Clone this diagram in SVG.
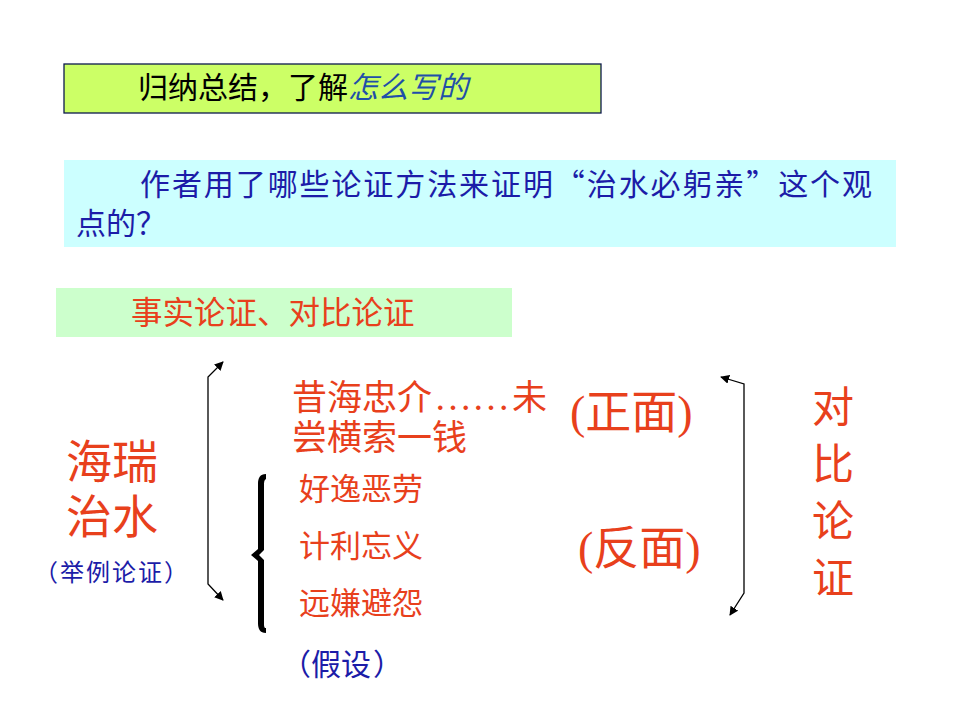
<svg xmlns="http://www.w3.org/2000/svg" width="960" height="720" viewBox="0 0 960 720">
<style>
text{font-family:"Noto Sans CJK SC","Liberation Serif",sans-serif;}
.lat{font-family:"Liberation Serif","Noto Sans CJK SC",serif;}
.red{fill:#e8401c;}
.blue{fill:#1c1ca8;}
.ln{fill:none;stroke:#000;stroke-width:1.3;}
</style>
<defs>
<marker id="ah" viewBox="0 0 10 10" refX="9" refY="5" markerWidth="9" markerHeight="9" markerUnits="userSpaceOnUse" orient="auto-start-reverse">
<path d="M0,0 L10,5 L0,10 Z" fill="#000"/>
</marker>
</defs>
<rect width="960" height="720" fill="#fff"/>
<g id="title">
<rect x="64" y="64" width="537" height="49" fill="#ccff66" stroke="#0d1a4d" stroke-width="1.3"/>
<text x="138" y="98" font-size="30" fill="#000">归纳总结，了解<tspan fill="#1f4fa8" font-style="italic">怎么写的</tspan></text>
</g>
<g id="question">
<rect x="64" y="160" width="832" height="87" fill="#ccffff"/>
<text x="140" y="195" font-size="30" class="blue" textLength="732" lengthAdjust="spacing">作者用了哪些论证方法来证明“治水必躬亲”这个观</text>
<text x="76" y="234" font-size="30" class="blue">点的？</text>
</g>
<g id="answer">
<rect x="56" y="288" width="456" height="49" fill="#ccffcc"/>
<text x="131" y="324" font-size="31.5" class="red">事实论证、对比论证</text>
</g>
<g id="hairui">
<text x="66" y="478" font-size="46" class="red">海瑞</text>
<text x="66" y="533" font-size="46" class="red">治水</text>
<text x="34" y="581" font-size="24" letter-spacing="2" class="blue">（举例论证）</text>
</g>
<g id="positive">
<text x="292" y="410" font-size="35" class="red">昔海忠介<tspan class="lat" font-size="38" dx="2">……</tspan><tspan x="512">未</tspan></text>
<text x="292" y="450" font-size="35" class="red">尝横索一钱</text>
<text x="570" y="428" font-size="46" class="red"><tspan class="lat">(</tspan>正面<tspan class="lat">)</tspan></text>
</g>
<g id="negative">
<text x="299" y="500" font-size="31" class="red">好逸恶劳</text>
<text x="299" y="557" font-size="31" class="red">计利忘义</text>
<text x="299" y="614" font-size="31" class="red">远嫌避怨</text>
<text x="578" y="564" font-size="46" class="red"><tspan class="lat">(</tspan>反面<tspan class="lat">)</tspan></text>
<text x="281" y="675" font-size="30" class="blue">（假设<tspan dx="2">）</tspan></text>
</g>
<g id="contrast">
<text x="833" y="422" font-size="42" class="red" text-anchor="middle">对</text>
<text x="833" y="479" font-size="42" class="red" text-anchor="middle">比</text>
<text x="833" y="536" font-size="42" class="red" text-anchor="middle">论</text>
<text x="833" y="593" font-size="42" class="red" text-anchor="middle">证</text>
</g>
<g id="connectors">
<path class="ln" d="M223,362 L208,377 L208,584 L223,600" marker-start="url(#ah)" marker-end="url(#ah)"/>
<path class="ln" d="M721,377 L744,384 L744,593 L730,615" marker-start="url(#ah)" marker-end="url(#ah)"/>
<path fill="#000" d="M266,474 C260,474 258,478 258,484 L258,549 L251,555 L258,561 L258,623 C258,629 260,633 266,633 L266,628 C264,628 264,626 264,622 L264,560 L259,555 L264,550 L264,486 C264,482 264,480 266,479 Z"/>
</g>
</svg>
